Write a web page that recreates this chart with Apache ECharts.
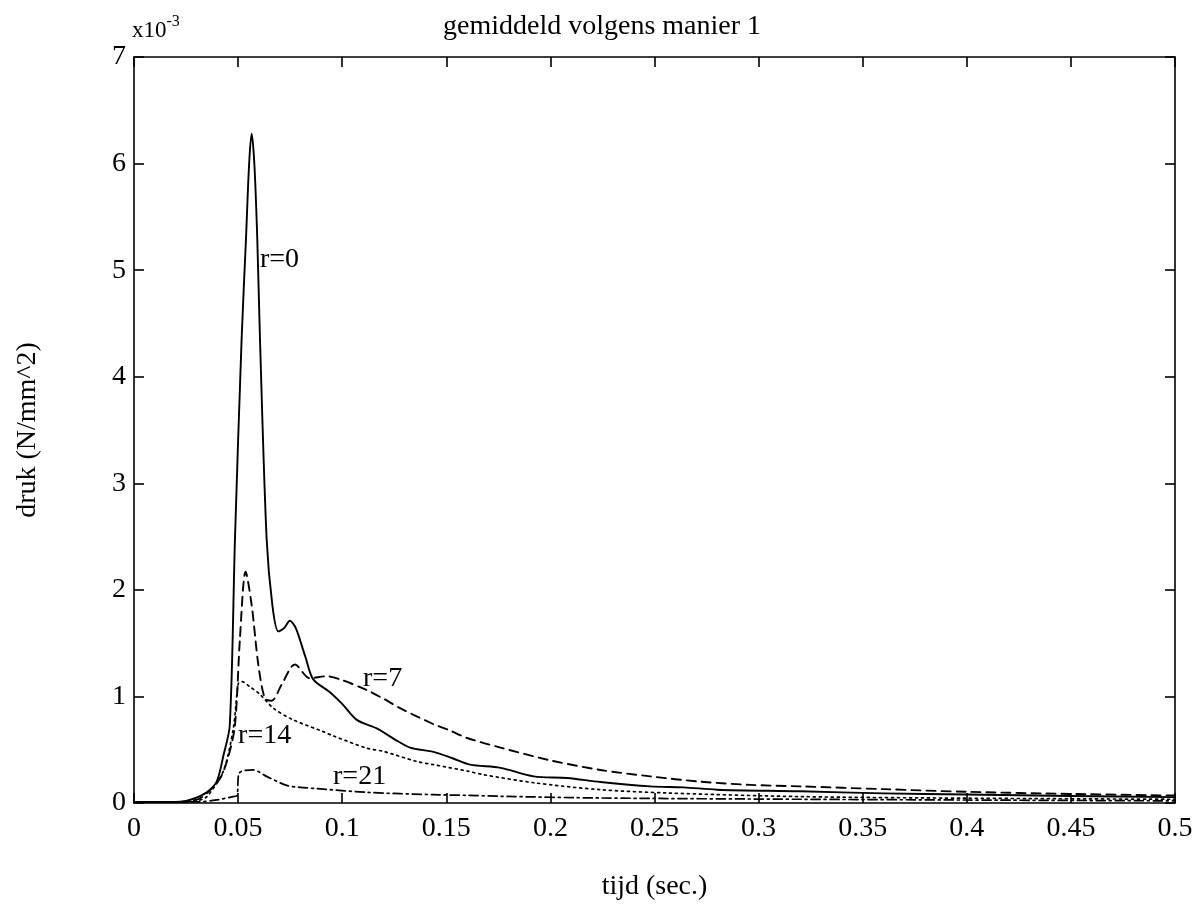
<!DOCTYPE html>
<html>
<head>
<meta charset="utf-8">
<script src="https://cdn.jsdelivr.net/npm/echarts@6/dist/echarts.min.js"></script>
<style>
html,body{margin:0;padding:0;background:#fff;}
#chart{width:1204px;height:912px;}
</style>
</head>
<body>
<div id="chart"></div>
<script>
// ---- data (pressure in units of 1e-3 N/mm^2, time in s) ----
var r0X = [0, 0.01, 0.02, 0.025, 0.03, 0.035, 0.0397, 0.043, 0.046, 0.0485, 0.0517, 0.0538, 0.0553, 0.0565, 0.0578, 0.0592, 0.0605, 0.0637, 0.0665, 0.0693, 0.072, 0.0749, 0.0775, 0.0789, 0.0825, 0.0861, 0.0941, 0.1, 0.107, 0.1166, 0.125, 0.1326, 0.1438, 0.153, 0.1614, 0.176, 0.192, 0.208, 0.224, 0.248, 0.264, 0.28, 0.32, 0.36, 0.4, 0.45, 0.5];
var r0Y = [0.01, 0.01, 0.01, 0.02, 0.05, 0.1, 0.2, 0.45, 0.73, 2.48, 4.36, 5.3, 6.0, 6.28, 6.0, 5.3, 4.36, 2.48, 1.85, 1.61, 1.64, 1.71, 1.65, 1.58, 1.36, 1.16, 1.04, 0.93, 0.78, 0.70, 0.60, 0.52, 0.48, 0.42, 0.36, 0.33, 0.25, 0.235, 0.197, 0.156, 0.147, 0.125, 0.11, 0.09, 0.08, 0.065, 0.055];

var r7X = [0, 0.02, 0.028, 0.033, 0.0413, 0.0455, 0.0485, 0.0509, 0.0536, 0.0565, 0.0597, 0.0629, 0.0661, 0.0709, 0.0773, 0.0845, 0.0925, 0.099, 0.1118, 0.1197, 0.1278, 0.1438, 0.1518, 0.16, 0.176, 0.2, 0.224, 0.248, 0.272, 0.296, 0.32, 0.36, 0.4, 0.45, 0.5];
var r7Y = [0.01, 0.01, 0.02, 0.06, 0.23, 0.45, 0.73, 1.55, 2.17, 1.86, 1.30, 0.98, 0.96, 1.11, 1.30, 1.17, 1.19, 1.16, 1.06, 0.98, 0.89, 0.74, 0.68, 0.61, 0.52, 0.40, 0.31, 0.25, 0.20, 0.17, 0.156, 0.13, 0.105, 0.085, 0.07];

var r14X = [0, 0.02, 0.03, 0.035, 0.0429, 0.0477, 0.0501, 0.0517, 0.0557, 0.0605, 0.0669, 0.0765, 0.0909, 0.0957, 0.1118, 0.1197, 0.1358, 0.1438, 0.16, 0.168, 0.192, 0.224, 0.256, 0.32, 0.4, 0.5];
var r14Y = [0.01, 0.01, 0.02, 0.06, 0.30, 0.70, 1.12, 1.14, 1.09, 1.02, 0.89, 0.78, 0.67, 0.63, 0.515, 0.485, 0.39, 0.36, 0.30, 0.265, 0.19, 0.125, 0.094, 0.06, 0.045, 0.035];

var r21X = [0, 0.03, 0.04, 0.0477, 0.0495, 0.0505, 0.0573, 0.0637, 0.0733, 0.0797, 0.0877, 0.1118, 0.1438, 0.16, 0.176, 0.224, 0.32, 0.4, 0.5];
var r21Y = [0.01, 0.01, 0.03, 0.06, 0.07, 0.28, 0.31, 0.25, 0.165, 0.147, 0.135, 0.10, 0.078, 0.072, 0.063, 0.047, 0.035, 0.028, 0.02];

var labelText = ['r=0', 'r=7', 'r=14', 'r=21'];
var labelX = [0.0605, 0.110, 0.050, 0.0956];
var labelY = [5.1, 1.17, 0.63, 0.25];

var xTicks = ['0', '0.05', '0.1', '0.15', '0.2', '0.25', '0.3', '0.35', '0.4', '0.45', '0.5'];
var yTicks = ['0', '1', '2', '3', '4', '5', '6', '7'];

var titleText = 'gemiddeld volgens manier 1';
var xName = 'tijd (sec.)';
var yName = 'druk (N/mm^2)';

function pairs(xs, ys) { return xs.map(function (x, i) { return [x, ys[i]]; }); }

var FONT = 'Liberation Serif';
var chart = echarts.init(document.getElementById('chart'), null, { renderer: 'canvas' });

function lineSeries(name, xs, ys, type, width) {
  return {
    name: name, type: 'line', data: pairs(xs, ys),
    showSymbol: false, symbol: 'none',
    smooth: 0.3,
    lineStyle: { color: '#000', width: width, type: type, cap: 'round', join: 'round' },
    z: 3
  };
}

var axisBase = {
  axisLine: { show: true, onZero: false, lineStyle: { color: '#000', width: 1.6 } },
  axisTick: { show: true, inside: true, length: 10, lineStyle: { color: '#000', width: 1.6 } },
  splitLine: { show: false }
};

var option = {
  backgroundColor: '#fff',
  animation: false,
  title: {
    text: titleText, left: 'center', top: 8,
    textStyle: { fontFamily: FONT, fontSize: 28, fontWeight: 'normal', color: '#000' }
  },
  grid: { left: 134, right: 29, top: 57, bottom: 109 },
  xAxis: [
    Object.assign({}, axisBase, {
      type: 'value', position: 'bottom', min: 0, max: 0.5, interval: 0.05,
      name: xName, nameLocation: 'middle', nameGap: 70,
      nameTextStyle: { fontFamily: FONT, fontSize: 28, color: '#000' },
      axisLabel: {
        fontFamily: FONT, fontSize: 28, color: '#000', margin: 12,
        formatter: function (v) { return xTicks[Math.round(v / 0.05)]; }
      }
    }),
    Object.assign({}, axisBase, {
      type: 'value', position: 'top', min: 0, max: 0.5, interval: 0.05,
      axisLabel: { show: false }
    })
  ],
  yAxis: [
    Object.assign({}, axisBase, {
      type: 'value', position: 'left', min: 0, max: 7, interval: 1,
      name: yName, nameLocation: 'middle', nameGap: 92, nameRotate: 90,
      nameTextStyle: { fontFamily: FONT, fontSize: 28, color: '#000' },
      axisLabel: {
        fontFamily: FONT, fontSize: 28, color: '#000', margin: 8,
        formatter: function (v) { return yTicks[Math.round(v)]; }
      }
    }),
    Object.assign({}, axisBase, {
      type: 'value', position: 'right', min: 0, max: 7, interval: 1,
      axisLabel: { show: false }
    })
  ],
  graphic: [{
    type: 'text', left: 132, top: 14,
    style: {
      text: '{a|x10}{b|-3}',
      rich: {
        a: { fontFamily: FONT, fontSize: 23, fill: '#000', lineHeight: 28, verticalAlign: 'bottom' },
        b: { fontFamily: FONT, fontSize: 16, fill: '#000', lineHeight: 28, verticalAlign: 'top' }
      }
    }
  }],
  series: [
    lineSeries('r=0', r0X, r0Y, 'solid', 1.9),
    lineSeries('r=7', r7X, r7Y, [9, 6], 1.9),
    lineSeries('r=14', r14X, r14Y, [2, 4], 1.7),
    lineSeries('r=21', r21X, r21Y, [9, 4, 2, 4], 1.7),
    {
      name: 'labels', type: 'scatter', symbolSize: 0,
      itemStyle: { opacity: 1 },
      data: labelText.map(function (t, i) { return { value: [labelX[i], labelY[i]], name: t }; }),
      label: {
        show: true, position: 'right', distance: 0, opacity: 1,
        formatter: function (p) { return p.name; },
        fontFamily: FONT, fontSize: 28, color: '#000'
      },
      z: 5
    }
  ]
};
chart.setOption(option);
</script>
</body>
</html>
